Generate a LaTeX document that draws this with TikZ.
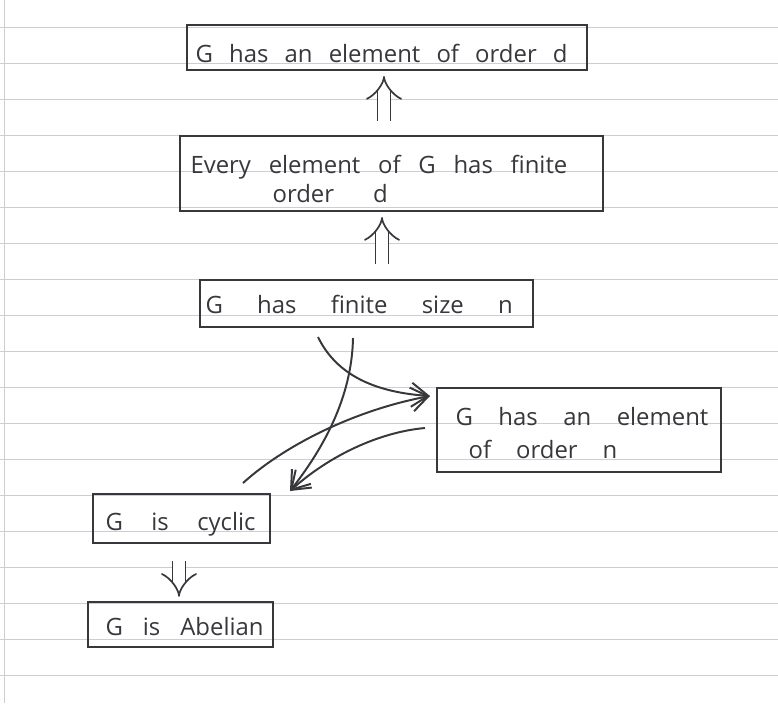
\documentclass[tikz,border=0pt]{standalone}
\usepackage{fontspec}
\setmainfont{Open Sans}
\usetikzlibrary{positioning}
\usetikzlibrary{fit}
\usetikzlibrary{arrows.meta}
\definecolor{ink}{RGB}{55,55,60}
\definecolor{riga}{RGB}{205,205,210}
\newcommand{\spreadline}[2]{\makebox[#1][s]{#2}}

\begin{document}
\begin{tikzpicture}[x=0.125mm,y=-0.125mm,
box/.style={draw=ink,line width=0.9pt,inner sep=0pt},
txt/.style={anchor=base west,inner sep=0pt,text=ink,font=\fontsize{8.5}{10}\selectfont},
dbl/.style={draw=ink,double,double distance=1.4mm,line width=0.6pt,-{Implies[length=2.2mm,width=3.8mm]}},
curva/.style={draw=ink,line width=0.7pt,-{Straight Barb[length=2.1mm,width=3mm]}}
]
\useasboundingbox (0,0) rectangle (778,703);
%-- paper
\foreach \k in {0,...,18}
  \draw[riga,line width=0.35pt] (0,{27+36*\k}) -- (778,{27+36*\k});
\draw[riga,line width=0.35pt] (4,0) -- (4,703);
%--
\node[box,fit={(187,25) (587,70)}] (elemd) {};
\node[txt] (t1) at (195,62) {\spreadline{46.5mm}{G has an element of order d}};
%--
\node[box,fit={(180,136) (603,211)}] (finord) {};
\node[txt] (t2a) at (190,173) {\spreadline{47.1mm}{Every element of G has finite}};
\node[txt] (t2b) at (272,202) {\spreadline{14.4mm}{order d}};
\coordinate (m1) at (384,0);
\draw[dbl,shorten <=1.75mm,shorten >=0.6mm] (finord.north -| m1) -- (elemd.south -| m1);
%--
\node[box,fit={(200,280) (533,327)}] (size) {};
\node[txt] (t3) at (205,313) {\spreadline{38.4mm}{G has finite size n}};
\coordinate (m2) at (382,0);
\draw[dbl,shorten <=1.9mm,shorten >=0.6mm] (size.north -| m2) -- (finord.south -| m2);
%--
\node[box,fit={(437,388) (721,472)}] (elemn) {};
\node[txt] (t4a) at (455,425) {\spreadline{31.6mm}{G has an element}};
\node[txt] (t4b) at (468,458) {\spreadline{18.6mm}{of order n}};
%--
\node[box,fit={(93,494) (270,543)}] (cyc) {};
\node[txt] (t5) at (105,530) {\spreadline{18.75mm}{G is cyclic}};
\node[box,fit={(88,602) (273,647)}] (ab) {};
\node[txt] (t6) at (105,635) {\spreadline{19.75mm}{G is Abelian}};
\coordinate (m3) at (179,0);
\draw[dbl,shorten <=2.1mm,shorten >=0.5mm] (cyc.south -| m3) -- (ab.north -| m3);
%-- crossing arrows
\coordinate (fromsize) at (318,337);
\coordinate (fromsizeb) at (353,338);
\coordinate (fromcyc) at (243,483);
\coordinate (fromelemn) at (425,428);
\coordinate (toelemn) at (430,396);
\coordinate (tocyc) at (290,491);
\draw[curva] (fromsize) .. controls (335,372) and (370,392) .. (toelemn);
\draw[curva] (fromcyc) .. controls (285,445) and (355,410) .. (toelemn);
\draw[curva] (fromsizeb) .. controls (352,390) and (330,440) .. (tocyc);
\draw[curva] (fromelemn) .. controls (380,432) and (330,455) .. (tocyc);
\end{tikzpicture}
\end{document}
